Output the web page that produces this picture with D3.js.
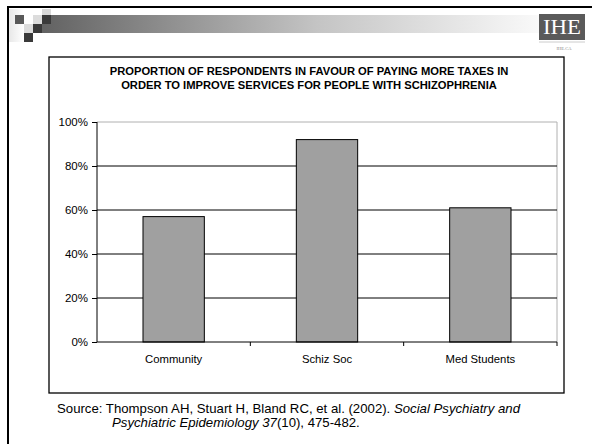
<!DOCTYPE html>
<html>
<head>
<meta charset="utf-8">
<script src="https://cdn.jsdelivr.net/npm/d3@7"></script>
<style>
  body { margin: 0; background: #fff; }
  svg { display: block; font-family: Arial, "Liberation Sans", sans-serif; }
</style>
</head>
<body>
<div id="chart"></div>
<script>
// chart data
const categories = ["Community", "Schiz Soc", "Med Students"];
const values = [0.57, 0.92, 0.61];
const yTicks = [0, 0.2, 0.4, 0.6, 0.8, 1.0];
const titleLines = [
  "PROPORTION OF RESPONDENTS IN FAVOUR OF PAYING MORE TAXES IN",
  "ORDER TO IMPROVE SERVICES FOR PEOPLE WITH SCHIZOPHRENIA"
];

const W = 592, H = 444;
const svg = d3.select("#chart").append("svg")
  .attr("width", W).attr("height", H);

// --- slide decoration ---
const defs = svg.append("defs");
const grad = defs.append("linearGradient").attr("id", "band")
  .attr("x1", "0%").attr("x2", "100%");
grad.append("stop").attr("offset", "0%").attr("stop-color", "#626262");
grad.append("stop").attr("offset", "55%").attr("stop-color", "#c4c4c4");
grad.append("stop").attr("offset", "100%").attr("stop-color", "#fafafa");
const lgrad = defs.append("linearGradient").attr("id", "lband")
  .attr("x1", "0%").attr("x2", "100%");
lgrad.append("stop").attr("offset", "0%").attr("stop-color", "#e8e8e8");
lgrad.append("stop").attr("offset", "100%").attr("stop-color", "#fff");

svg.append("rect").attr("x", 9).attr("y", 9).attr("width", 15).attr("height", 33)
  .attr("fill", "url(#lband)");
svg.append("rect").attr("x", 42).attr("y", 15).attr("width", 500).attr("height", 18)
  .attr("fill", "url(#band)");

// little squares at top-left
const squares = [
  [15, 15, "#595959"], [33, 15, "#dcdcdc"], [42, 9, "#d8d8d8"], [42, 15, "#3a3a3a"],
  [24, 24, "#dcdcdc"], [33, 24, "#3a3a3a"], [24, 33, "#3a3a3a"]
];
svg.selectAll(".sq").data(squares).enter().append("rect")
  .attr("x", d => d[0]).attr("y", d => d[1])
  .attr("width", 9).attr("height", 9).attr("fill", d => d[2]);

// slide frame (top + left)
svg.append("path").attr("d", "M8,444 V7 H592")
  .attr("fill", "none").attr("stroke", "#000").attr("stroke-width", 2);

// IHE logo
svg.append("rect").attr("x", 539).attr("y", 14).attr("width", 46).attr("height", 26)
  .attr("fill", "#5a5a5a");
svg.append("text").attr("x", 543).attr("y", 34)
  .attr("font-family", "'Liberation Serif', 'DejaVu Serif', serif")
  .attr("font-size", 20).attr("fill", "#fff")
  .attr("textLength", 38).attr("lengthAdjust", "spacingAndGlyphs").text("IHE");
svg.append("line").attr("x1", 539).attr("x2", 585).attr("y1", 42).attr("y2", 42)
  .attr("stroke", "#ccc");
svg.append("text").attr("x", 564).attr("y", 50).attr("text-anchor", "middle")
  .attr("font-family", "'Liberation Serif', serif")
  .attr("font-size", 4.5).attr("fill", "#888").text("IHE.CA");

// chart frame
svg.append("rect").attr("x", 49).attr("y", 57).attr("width", 515).attr("height", 336)
  .attr("fill", "#fff").attr("stroke", "#000").attr("stroke-width", 1.3);

// title
svg.selectAll(".title").data(titleLines).enter().append("text")
  .attr("x", 309).attr("y", (d, i) => 75 + i * 13.5)
  .attr("text-anchor", "middle").attr("font-weight", "bold")
  .attr("font-size", 11.2).text(d => d);

// --- plot ---
const margin = { left: 97, top: 122, right: 557, bottom: 342 };
const x = d3.scaleBand().domain(categories).range([margin.left, margin.right]);
const y = d3.scaleLinear().domain([0, 1]).range([margin.bottom, margin.top]);

// plot area border (top/right, gray)
svg.append("path")
  .attr("d", `M${margin.left},${y(1)} H${margin.right} V${margin.bottom}`)
  .attr("fill", "none").attr("stroke", "#b0b0b0");

// gridlines
svg.selectAll(".grid").data(yTicks.filter(t => t > 0 && t < 1)).enter().append("line")
  .attr("x1", margin.left).attr("x2", margin.right)
  .attr("y1", d => y(d)).attr("y2", d => y(d))
  .attr("stroke", "#000");

// bars
const barW = x.bandwidth() * 0.4;
svg.selectAll(".bar").data(values).enter().append("rect")
  .attr("x", (d, i) => x(categories[i]) + (x.bandwidth() - barW) / 2)
  .attr("y", d => y(d))
  .attr("width", barW)
  .attr("height", d => y(0) - y(d))
  .attr("fill", "#a0a0a0").attr("stroke", "#000");

// y axis
const yAxis = svg.append("g").attr("transform", `translate(${margin.left},0)`)
  .call(d3.axisLeft(y).tickValues(yTicks).tickFormat(d3.format(".0%")).tickSize(5).tickPadding(4));
yAxis.selectAll("text").attr("font-size", 11.5).attr("fill", "#000")
  .attr("font-family", "Arial, 'Liberation Sans', sans-serif");
yAxis.selectAll("line, path").attr("stroke", "#000");
yAxis.select(".domain").attr("d", `M0,${y(1)}V${y(0)}`);

// x axis
const xAxis = svg.append("g").attr("transform", `translate(0,${margin.bottom})`)
  .call(d3.axisBottom(x).tickSize(0).tickPadding(13));
xAxis.select(".domain").attr("d", `M${margin.left},0H${margin.right}`).attr("stroke", "#000");
xAxis.selectAll("text").attr("font-size", 11.3).attr("fill", "#000")
  .attr("font-family", "Arial, 'Liberation Sans', sans-serif");
svg.selectAll(".xtick").data(categories).enter().append("line")
  .attr("x1", d => x(d) + x.bandwidth()).attr("x2", d => x(d) + x.bandwidth())
  .attr("y1", margin.bottom).attr("y2", margin.bottom + 4)
  .attr("stroke", "#000");

// source
const src = svg.append("text").attr("font-size", 13.2).attr("fill", "#000");
const l1 = src.append("tspan").attr("x", 57).attr("y", 413);
l1.append("tspan").text("Source: Thompson AH, Stuart H, Bland RC, et al. (2002). ");
l1.append("tspan").attr("font-style", "italic").text("Social Psychiatry and");
const t2 = svg.append("text").attr("font-size", 13.2).attr("x", 112).attr("y", 427);
t2.append("tspan").attr("font-style", "italic").text("Psychiatric Epidemiology 37");
t2.append("tspan").text("(10), 475-482.");
</script>
</body>
</html>
